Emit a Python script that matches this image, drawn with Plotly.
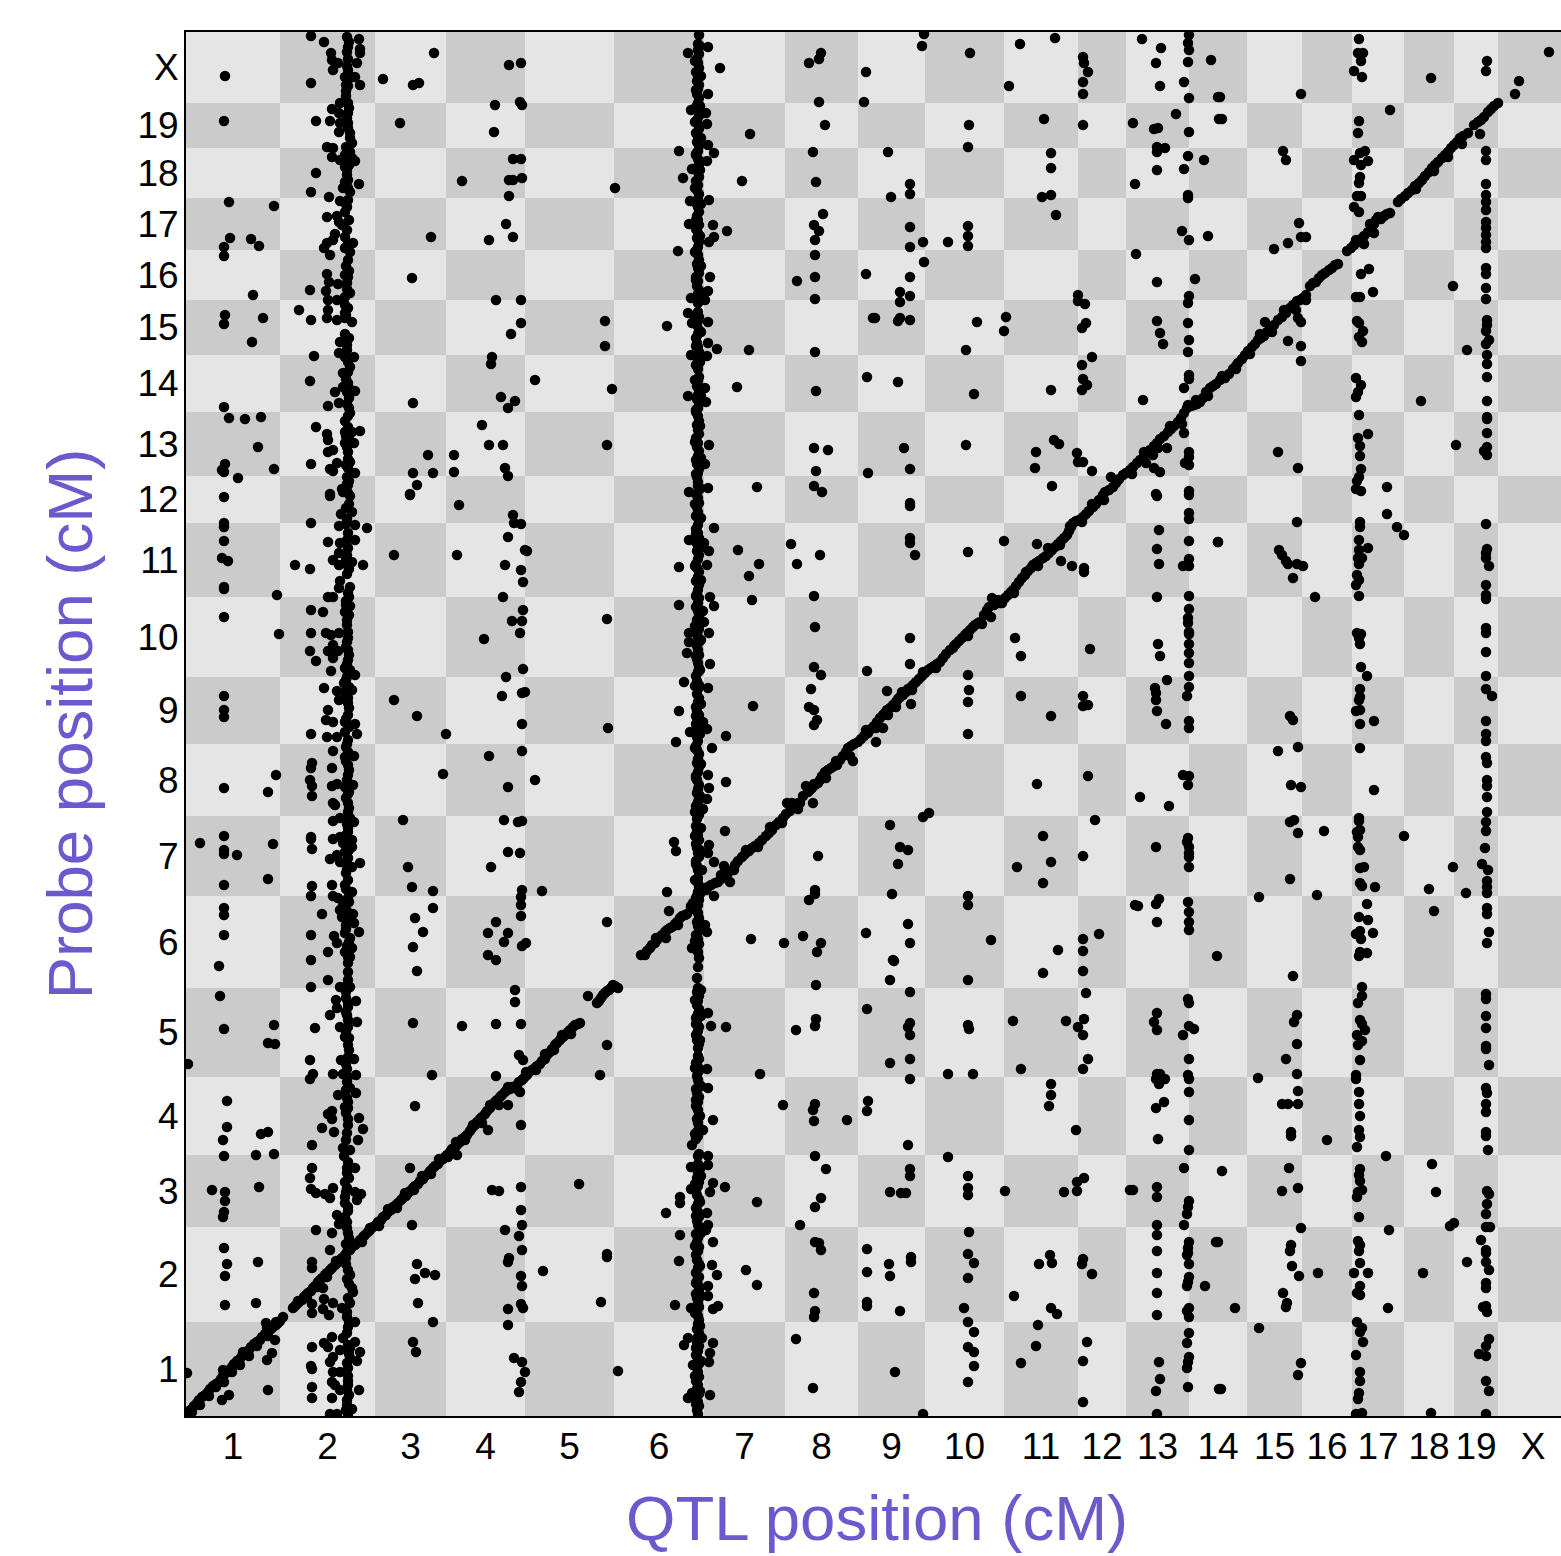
import plotly.graph_objects as go

chrom_labels = ["1","2","3","4","5","6","7","8","9","10","11","12","13","14","15","16","17","18","19","X"]
x_bounds = [0,94,189,260,339,428,518,599,672,739,818,892,940,1003,1061,1116,1166,1218,1268,1312,1375]
y_bounds = [0,94,189,261,339,428,520,600,672,739,819,893,940,1004,1061,1116,1166,1218,1268,1313,1384]

chr1_hits = [(39,1340),(38,1295),(43,1214),(88,1210),(44,1178),(65,1177),(73,1170),(38,1169),(38,1160),(67,1121),(39,1101),(38,1092),(77,1098),(66,1074),(38,1009),(43,998),(59,997),(75,999),(72,969),(39,952),(36,946),(38,944),(88,947),(52,938),
(38,919),(38,893),(38,889),(38,875),(36,858),(42,855),(38,829),(38,827),(91,821),(38,799),(93,782),(38,720),(38,706),(38,699),(90,641),(38,628),(82,624),(38,580),(14,573),(87,572),(38,566),(38,562),(51,561),(82,537),(38,531),(38,508),(38,501),(38,481),
(33,450),(34,420),(38,387),(88,391),(82,373),(89,372),(2,352),(41,315),(41,289),(37,276),(75,282),(82,284),(38,260),(70,261),(88,262),(26,226),(39,224),(73,229),(39,215),(38,204),(37,199),(38,168),(41,152),(72,154),(39,140),(39,111),(70,113),(89,76),(86,63),(81,56),(82,26),(43,21),(36,16),(1,43)]

chr2_top = [(125,1380),(138,1374),(161,1379),(173,1377),(162,1369),(174,1367),(174,1363),(145,1363),(161,1364),(146,1356),(152,1353),(162,1357),(171,1353),(147,1346),(162,1346),(169,1339),(159,1339),(162,1336),(125,1333),(160,1331),(174,1331),(162,1330),
(160,1320),(154,1313),(162,1313),(146,1307),(153,1303),(162,1303),(144,1295),(130,1295),(154,1293),(162,1293),(153,1284),(164,1283),(164,1278),(166,1273),(141,1269),(147,1268),(164,1264),(146,1259),(159,1261),(154,1256),(161,1256),(169,1255),(166,1258),(159,1249),(130,1243),(161,1241),(162,1236),(159,1234),(173,1232),(157,1228),(164,1224),(125,1224),(143,1219),(154,1215),(162,1216),(161,1209),(159,1204),(141,1199),(151,1200),(156,1191),(153,1194),(149,1182),(159,1179),(167,1173),(141,1173),(138,1168),(147,1176),(164,1164),(159,1168),(144,1161),(162,1156),(141,1142),(159,1141),(162,1139),(143,1134),(152,1132),(161,1133),(124,1126),(140,1125),(164,1123),(159,1119),(142,1116),(151,1116),(159,1111),(142,1106),(159,1103),(141,1098),(151,1096),(159,1098),(166,1094),(125,1096),(113,1106),(159,1082),(154,1074),(161,1071),(153,1063),(159,1059),(168,1059),(128,1060),(164,1049),(157,1043),(162,1044),(124,1035),(162,1033),(157,1029),(149,1024),(161,1024),(169,1025),(163,1018),(153,1013),(142,1010),(163,1008),(164,1003),(159,995),(162,989),(130,989),(159,984),(166,984),(174,985),(141,982),(142,976),(159,973),(168,973),(162,964),(142,964),(147,966),(125,952),(151,953),(164,954),(144,947),(162,948),(147,945),(169,943),(161,939),(162,931),(156,927),(144,922),(162,923)]

chr2_mid = [(144,920),(157,924),(164,920),(166,904),(160,908),(155,902),(125,893),(153,890),(160,892),(169,891),(181,888),(162,883),(142,874),(154,873),(161,876),(169,876),(153,863),(161,861),(147,856),(166,854),(109,851),(124,847),(153,851),(162,850),(177,851),(154,835),(164,829),(153,828),(142,819),(147,819),(163,819),(160,811),(164,810),(125,806),(137,804),(159,804),(161,791),(125,783),(140,783),(145,781),(153,783),(162,784),(161,774),(147,771),(124,765),(142,765),(152,765),(162,766),(147,758),(130,755),(162,756),(159,748),(145,745),(164,746),(169,741),(161,739),(158,733),(138,728),(151,725),(159,724),(166,726),(153,716),(162,718),(142,706),(163,708),(162,701),(140,696),(147,694),(159,694),(169,692),(125,682),(141,679),(151,679),(159,684),(171,682),(162,676),(160,669),(147,665),(168,660),(159,659),(162,651),(126,653),(125,648),(146,648),(162,641),(124,636),(126,630),(146,630),(151,632),(159,629),(167,631),(163,624),(126,620),(147,613),(162,613),(149,611),(162,604),(154,598),(147,595),(164,598),(168,594),(162,588),(125,579),(125,577),(147,577),(154,579),(166,576),(126,567),(157,573),(166,569),(159,564),(151,561),(144,557),(162,558),(154,554),(174,553),(161,551),(166,549),(160,543),(126,530),(146,531),(159,531),(166,524),(125,520),(147,520),(152,518),(162,518),(157,511),(136,502),(154,506),(167,502),(156,499),(168,493),(160,491),(173,484),(125,481),(148,480),(159,483),(164,478),(151,473),(166,468),(142,464),(159,464),(125,456),(164,459)]

chr2_low = [(162,459),(162,453),(162,444),(142,436),(125,429),(154,429),(159,429),(164,429),(150,416),(160,418),(170,415),(151,408),(162,409),(144,401),(161,401),(171,394),(154,389),(129,388),(162,389),(159,379),(163,378),(163,366),(124,356),(155,356),(162,359),(168,357),(127,342),(147,342),(157,342),(170,341),(124,337),(161,334),(164,328),(152,321),(170,323),(161,318),(159,309),(146,305),(142,302),(162,308),(173,298),(146,297),(162,291),(136,288),(177,287),(148,284),(161,283),(172,276),(126,271),(157,268),(164,266),(158,260),(126,248),(161,248),(169,248),(124,238),(159,234),(125,227),(161,228),(147,228),(130,223),(139,222),(144,218),(169,224),(175,222),(159,219),(171,216),(159,213),(162,205),(151,201),(161,194),(153,192),(130,186),(146,183),(162,183),(144,166),(126,154),(126,148),(164,141),(137,128),(166,128),(167,124),(138,117),(126,112),(147,113),(164,113),(137,107),(156,108),(126,103),(143,101),(161,99),(169,94),(162,89),(146,79),(138,73),(157,78),(169,74),(126,69),(142,69),(154,66),(164,68),(174,64),(147,59),(164,58),(171,55),(125,50),(126,47),(144,54),(162,48),(147,44),(162,40),(154,44),(146,34),(149,31),(162,31),(126,29),(173,26),(161,26),(154,26),(126,18),(146,18),(161,16),(166,7),(160,6),(144,2),(151,2)]

chr2_core = [(162,2),(161,11),(163,21),(162,35),(161,53),(163,62),(162,71),(161,83),(163,94),(161,104),(162,118),(163,132),(161,137),(162,146),(160,152),(159,159),(162,165),(160,172),(163,178),(161,188),(159,199),(162,209),(160,224),(163,238),(161,243),(162,254),(160,276),(162,297),(160,303),(162,314),(160,326),(162,339),(161,347),(160,352),(162,371),(160,384),(162,396),(160,404),(162,413),(160,424),(162,436),
(161,470),(163,474),(160,487),(162,496),(161,505),(163,514),(160,527),(162,536),(161,547),(163,566),(160,581),(162,584),(161,592),(163,608),(160,618),(162,622),(161,636),(163,646),(160,655),(162,664),(161,672),(163,689),(160,697),(162,713),(161,721),(163,729),(160,736),(162,743),(161,752),(163,761),(160,769),(162,778),(161,796),(163,801),(160,815),(162,823),(161,842),(163,847),(160,856),(162,868),(161,897),(163,912),
(161,932),(163,935),(160,951),(162,957),(161,969),(163,977),(160,980),(162,1000),(161,1012),(163,1028),(160,1037),(162,1054),(161,1066),(163,1078),(160,1101),(162,1108),(161,1127),(163,1145),(160,1150),(162,1172),(161,1186),(163,1196),(160,1212),(162,1228),(161,1246),(163,1251),(160,1269),(162,1288),(161,1298),(163,1308),(160,1325),(162,1342),(161,1350),(163,1374)]

chr3_4_hits = [(248,1363),(323,1351),(335,1353),(197,1337),(227,1331),(233,1333),(309,1311),(334,1314),(336,1311),(214,1293),(308,1284),(327,1257),(335,1257),(276,1235),(323,1236),(327,1236),(336,1238),(323,1220),(320,1192),(245,1179),(303,1176),(327,1179),(226,1138),(310,1116),(335,1116),(335,1093),(325,1082),(306,1059),(305,1052),(227,1013),(315,1019),(329,1015),(322,1008),(296,991),(303,971),(317,971),(242,961),(268,961),(319,948),(322,940),(227,943),(247,943),(268,944),(231,931),(224,922),
(224,921),(273,911),(327,901),(328,893),(335,892),(322,879),(339,866),(208,861),(271,861),(319,851),(335,846),(337,834),(317,819),(337,806),(326,795),(336,795),(334,783),(298,777),(337,747),(320,739),(316,720),(336,723),(339,724),(208,716),(231,700),(260,682),(336,692),(303,660),(336,665),(257,642),(322,629),(217,596),(318,596),(332,594),(336,595),(322,564),(334,563),(222,549),(305,549),(226,529),(247,525),(336,526),(335,519),(335,511),(247,508),(229,498),(335,500),(310,494),(302,483),(322,483),(237,484),(318,474),(336,470),(340,473),(227,469),(302,461),(310,456),
(231,445),(329,426),(329,414),(227,393),(276,390),(310,392),(335,392),(333,361),(337,356),(246,341),(310,340),(229,310),(335,291),(302,286),(322,311),(334,324),(224,248),(306,226),(313,225),(335,229),(335,206),(226,191),(336,191),(319,186),(333,180),(336,166),(323,158),(322,154),(231,152),(239,143),(249,141),(229,137),(335,140),(336,130),(232,113),(335,112),(337,108),(322,107),(247,94),(322,91),(227,74),(230,64),(328,58),(336,54),(339,44),(335,34),(333,24),(271,261)]

chr5_hits = [(429,1228),(419,1095),(419,1070),(481,1090),(349,1036),(426,1027),(421,971),(341,865),(421,797),(422,688),(349,636),(356,525),(421,494),(432,45),(393,232),(421,371),(414,341),(421,159),(421,162),(357,145),(415,114),(402,420)]

chr6_7_side = [(502,1363),(522,1369),(534,1348),(522,1322),(505,1306),(520,1303),(521,1292),(564,1282),(493,1265),(528,1263),(522,1271),(521,1255),(506,1247),(497,1238),(556,1235),(504,1215),(523,1216),(503,1192),(527,1191),(541,1185),(528,1179),(523,1174),(492,1165),(524,1139),(522,1125),(505,1118),(519,1116),(502,1103),(522,1094),(506,1093),(522,1073),(531,1067),(563,1066),(505,1061),(521,1060),(551,1029),(519,1028),(502,1020),(520,1014),(523,971),(519,952),(522,928),(571,929),(503,924),
(528,888),(503,876),(518,873),(552,866),(523,865),(573,852),(521,851),(493,849),(563,840),(524,819),(566,816),(493,811),(528,810),(517,805),(518,794),(523,783),(503,783),(503,774),(501,763),(524,752),(498,734),(522,728),(567,710),(493,705),(517,694),(504,684),(521,687),(540,680),(490,674),(526,668),(540,634),(522,641),(523,628),(521,617),(517,607),(539,585),(488,574),(490,565),(523,571),(522,563),(528,554),(538,550),(516,546),(481,524),(483,505),(505,510),(521,484),(565,477),(598,473),(617,480),(506,468),(519,491),(528,520),(544,534),
(522,403),(540,389),(525,390),(574,342),(521,347),(522,328),(597,311),(527,296),(517,286),(506,271),(522,260),(522,251),(505,249),(527,233),(539,229),(505,227),(524,224),(494,219),(494,213),(480,203),(571,214),(521,203),(522,191),(520,186),(494,181),(527,174),(493,155),(526,151),(560,146),(531,141),(571,131),(522,130),(522,120),(489,111),(505,108),(532,110),(527,107),(502,78),(498,71),(527,73),(516,78),(524,63),(523,54),(507,51),(506,23),(502,18),(524,21)]

chr6_band = [(512,2),(511,6),(513,10),(512,14),(510,18),(513,22),(511,27),(512,31),(510,35),(513,39),(512,44),(511,48),(513,52),(512,57),(510,61),(512,65),(513,70),(511,74),(512,79),(513,83),(511,87),(512,92),(513,96),(512,100),(511,105),(513,109),(512,113),(511,118),(510,122),(513,126),(512,131),(511,135),(513,139),(510,143),(512,148),(513,152),(511,156),(510,161),(512,165),(513,169),(511,174),(512,178),(510,182),(513,186),(512,191),(511,195),(513,199),(512,204),(510,208),(512,212),(513,217),(511,221),(510,225),(512,230),(513,234),(511,238),(512,243),(514,247),(512,252),(512,260),(513,262),
(510,277),(512,280),(511,284),(513,288),(512,293),(511,297),(513,301),(512,306),(510,310),(512,314),(513,319),(511,323),(510,327),(513,332),(512,336),(511,340),(513,345),(512,349),(510,353),(513,357),(512,360),
(512,368),(513,372),(511,376),(510,381),(512,385),(513,389),(511,394),(510,398),(512,402),(513,407),(511,411),(512,415),(513,420),(511,424),(512,428),(511,438),(512,449),(513,458),
(512,464),(511,468),(513,472),(512,477),(510,481),(513,485),(512,490),(511,494),(513,498),(512,503),(510,507),(512,511),(513,516),(511,520),(512,524),(513,529),(512,533),(512,538),
(512,546),(511,550),(510,555),(513,559),(512,563),(511,568),(510,572),(513,576),(512,581),(511,585),(510,590),
(511,597),(513,601),(512,605),(510,610),(512,614),(513,618),(511,623),(512,627),(513,631),(511,636),(510,640),(512,644),(513,649),(511,653),(512,657),(513,662),(511,666),(510,670),(512,675),(511,679),(513,683),(512,688),(510,692),(512,696),(513,701),(511,705),(510,709),(512,714),(513,718),(511,722),(512,727),(513,731),(511,735),(510,740),(512,744),(513,748),(512,753),(511,757),(513,761),(512,766),(511,770),(513,774),(512,779),(511,783),(513,787),(512,792),(511,796),(513,800),(512,805),(510,809),(512,813),(513,818),(511,822),(512,826),(513,831),(510,835),(512,839),(513,844),(511,848),(510,852),(512,857),(513,861),(511,865),(512,870),(510,874),(513,878),(512,883),(510,887),(512,891),(513,896),(510,900),(512,904),(511,909),(513,913),(512,918),(510,922),(513,926),(512,930),
(512,934),(511,939),(512,943),(513,947),(511,952),(510,956),(512,960),(513,965),(511,969),(512,973),(510,978),(513,982),(512,986),(511,991),(513,995),(512,1000),(510,1004),(512,1008),(513,1013),(511,1017),(512,1021),(513,1026),(511,1030),(512,1035),(513,1039),
(512,1047),(510,1051),(512,1056),(511,1060),(513,1064),(512,1069),(511,1073),(510,1078),(512,1082),(513,1086),(511,1091),(512,1095),(513,1099),(512,1104),
(512,1113),(510,1117),(512,1122),(513,1126),(511,1130),(512,1135),(510,1139),(513,1143),(512,1148),(511,1152),(513,1156),(512,1161),(510,1165),(512,1169),(513,1174),(511,1178),(512,1183),(510,1187),(513,1191),(512,1196),(511,1200),(513,1204),(512,1209),(510,1213),(512,1217),(513,1222),(511,1226),(512,1231),(510,1235),(513,1239),(512,1244),(511,1248),(513,1252),(512,1257),(510,1261),(512,1265),(513,1270),(511,1274),(512,1279),(510,1283),(513,1287),(512,1292),(511,1296),(513,1300),(512,1305),(510,1309),(512,1313),(513,1318),(511,1322),(512,1327),(513,1331),(511,1335),(512,1340),(510,1344),(513,1348),(512,1353),(511,1357),(513,1362),(512,1366),(512,1372),(513,1381)]

chr6_edges = [(510,12),(514,25),(509,40),(515,55),(510,68),(514,90),(509,103),(515,120),(510,133),(514,150),(509,170),(515,183),(510,200),(514,214),(509,232),(515,240),(509,282),(514,300),(510,316),(515,330),(509,348),(514,376),(510,392),(515,400),(509,416),(515,426),(509,475),(515,492),(510,506),(514,522),(509,536),(510,552),(514,566),(509,580),(515,588),(509,604),(514,620),(510,638),(515,652),(509,668),(514,682),(510,700),(515,712),(509,730),(514,746),(510,760),(515,776),(509,790),(514,806),(510,820),(515,836),(509,850),(514,868),(510,882),(515,898),(509,912),(514,928),(510,942),(515,958),(509,974),(514,990),(510,1006),(515,1020),(509,1036),(514,1054),(510,1070),(515,1084),(509,1098),(514,1120),(510,1136),(515,1150),(509,1164),(514,1180),(510,1196),(515,1212),(509,1228),(514,1246),(510,1262),(515,1278),(509,1294),(514,1310),(510,1326),(515,1340),(509,1355),(514,1370)]

chr8_hits = [(635,1363),(633,1357),(623,1353),(680,1344),(678,1314),(633,1314),(639,1291),(627,1264),(630,1234),(637,1202),(628,1191),(633,1185),(629,1176),(629,1161),(629,1139),(611,1135),(680,1142),(629,1117),(687,1098),(629,1064),(681,1039),(630,1025),(628,968),(642,966),(630,945),(682,943),(628,930),(636,924),
(605,872),(634,861),(611,852),(628,820),(629,789),(628,749),(635,741),(681,745),(625,727),(623,709),(628,706),(631,696),(628,691),(667,655),(632,560),(629,526),(629,522),(623,516),(680,483),(635,473),(631,464),(627,613),
(630,431),(681,407),(630,397),(629,390),(610,386),(629,312),(627,306),(628,295),(661,296),(682,315),(681,305),(629,260),(640,247),(635,218),(629,209),(614,191),(629,174),(633,173),(635,166),(681,167),(681,144),(628,123),(629,105),(628,99),(681,114),(681,110),(610,77),(627,28)]

chr9_13_top = [(738,1382),(736,1370),(784,1363),(834,1372),(869,1378),(823,1330),(897,1359),(898,1353),(902,1344),(897,1334),(897,1322),(858,1297),(897,1291),(783,1291),(782,1269),(702,1264),(865,1263),(865,1248),(724,1232),(724,1222),(705,1219),(865,1221),(856,1219),(870,1201),(724,1189),(782,1190),(782,1180),(782,1170),(762,1174),(737,1174),(724,1169),(738,1154),(724,1139),(714,1124),(724,1120),(714,1114),(689,1098),(714,1098),(712,1095),(724,1096),(791,1094),(820,1099),(818,1085),(780,1066),(712,1034),(788,1022),(865,1026),(892,1121),(892,1115),(899,1112),(900,1093),(896,1088),(906,1059),(896,1051),(897,1037),(901,1031),(896,1026),(718,968),(780,971),(724,947),(868,976),(873,972),(850,964),(849,948),(866,930),(891,963),(892,954),(897,954),(906,945),(925,939),
(956,1377),(975,1368),(970,1353),(974,1330),(998,1334),(990,1302),(947,1293),(968,1287),(972,1288),(971,1269),(979,1268),(971,1264),(971,1246),(998,1247),(949,1232),(996,1185),(950,1162),(971,1134),(971,1095),(974,1083),(977,1072),(957,1016),(998,1028),
(1003,1381),(1002,1373),(1003,1366),(1002,1354),(1003,1318),(1003,1284),(1002,1260),(1002,1221),(1002,1218),(1003,1176),(1003,1120),(1002,1113),(1002,1093),(1003,1076),(1002,1064),(1003,1041),(1003,1037),(998,983),(1003,964),(1003,959),(999,953),(1003,951),(1003,925),
(1025,1356),(1032,1319),(1033,1297),(1018,1256),(1022,1180),(1009,1137),(981,968),(967,961),(960,953),(968,948),(974,944),(970,922)]

chr9_13_mid = [(724,913),(724,910),(724,878),(724,873),(729,861),(782,864),(818,875),(851,872),(724,778),(724,752),(782,741),(783,726),(782,714),(782,682),(829,778),(835,760),(835,720),(865,700),(897,720),(897,710),(902,711),(904,767),(875,855),(886,850),(898,848),(898,844),(701,725),(725,712),(697,688),(690,674),(805,799),
(971,920),(973,886),(971,867),(973,852),(971,819),(972,772),(974,760),(969,728),(970,723),(970,716),(971,705),(980,692),(981,736),
(1003,921),(1003,903),(1003,897),(1003,875),(1003,857),(997,850),(1003,850),(1003,820),(1003,807),(1002,798),(1002,793),(1003,784),(1003,782),(1003,772),(1003,763),(1003,753),(1003,740),(1003,729),(1001,720),(1003,695),(1003,688),(1032,874),
(851,632),(902,640),(997,641),(1003,640),(1002,631),(954,619),(983,610),(743,603),(737,599),(704,591),(714,569),(722,566),(712,552),(706,522),(722,492),(724,473),(707,456),(857,580),(865,554),(831,549),(857,533),(909,596),(897,560),(782,520),(782,511),(805,476),(872,466),(897,477),(897,465),(913,482),(970,569),(1002,578),(1001,574),(1003,569),(1003,563),(1003,559),(1003,549),(949,511),(952,510),(973,517),(970,512),(971,494),(1002,514),(1003,504),(1003,494),(1003,486),(1031,460)]

chr9_13_low = [(708,455),(704,436),(782,436),(857,443),(897,445),(724,424),(900,423),(724,393),(722,389),(724,381),(782,391),(783,387),(827,395),(880,395),(898,397),(892,389),(897,381),(971,403),(968,394),(971,386),(1002,417),(1003,413),(1003,390),(1008,387),(997,381),(704,353),(724,357),(724,337),(762,342),(787,342),(835,347),(902,357),(897,347),(1003,357),(1002,341),(1003,337),(1003,324),(971,342),(974,342),(970,337),(979,337),(973,332),(865,332),(865,321),(863,310),(978,314),(970,308),(1003,296),(890,286),(972,277),(1003,266),(722,271),(762,259),(724,247),(724,240),(782,240),(998,248),(898,238),(891,234),(704,224),(715,223),(720,223),(782,228),(782,221),(819,225),(878,224),(891,225),(944,226),(947,226),(971,229),(971,219),(1003,215),(1002,209),(1001,202),(783,184),(971,191),(971,181),(998,191),(1003,174),(1030,174),(1002,168),(971,165),(1002,163),(1001,161),(1003,152),(782,162),(788,153),(725,159),(725,154),(703,152),(704,140),(782,138),(864,161),(853,152),(866,153),(897,157),(896,152),(906,142),(971,143),(1003,139),(1002,134),(1001,130),(1019,130),(828,120),(971,123),(778,108),(714,105),(865,108),(871,102),(1003,108),(1001,105),(1003,99),(971,101),(782,94),(852,91),(788,84),(1003,83),(1001,73),(901,74),(782,69),(788,64),(850,70),(1003,59),(1002,54),(897,55),(973,54),(835,53),(1001,48),(788,50),(709,44),(782,34),(974,37),(970,25),(1002,29),(1033,27),(897,14),(737,2),(971,2)]

chr14_x_top = [(1034,1319),(1036,1297),(1115,1322),(1173,1377),(1172,1363),(1177,1363),(1175,1355),(1168,1345),(1176,1339),(1173,1295),(1172,1283),(1204,1306),(1245,1338),(1301,1355),(1300,1345),(1363,1364),(1333,1335),(1329,1322),
(1097,1265),(1100,1256),(1179,1265),(1174,1263),(1168,1256),(1182,1255),(1175,1251),(1174,1239),(1173,1233),(1171,1220),(1175,1220),(1168,1209),(1173,1204),(1300,1265),(1300,1256),(1300,1232),(1300,1221),(1300,1214),(1300,1206),(1300,1194),(1300,1188),(1300,1181),(1300,1174),(1300,1168),(1294,1282),
(1113,1193),(1115,1179),(1120,1179),(1102,1173),(1088,1167),(1183,1147),(1175,1142),(1187,1124),(1170,1119),(1174,1119),(1267,1130),(1300,1148),(1300,1142),(1300,1128),(1300,1117),
(1112,1098),(1115,1094),(1079,1094),(1102,1075),(1115,1070),(1115,1055),(1171,1095),(1173,1093),(1177,1085),(1173,1079),(1176,1074),(1301,1096),(1301,1091),(1300,1085),(1303,1076),(1300,1072),(1281,1066),(1301,1061),(1301,1052),(1301,1039),
(1170,1038),(1175,1031),(1172,1024),(1170,1019),(1235,1015),(1301,1015),(1173,1001),(1301,999),(1301,997),(1182,982),(1172,978),(1174,970),(1174,960),(1301,983),(1270,971),(1301,969),(1298,965),(1301,961),(1092,964),(1112,948),(1175,947),(1173,939),(1171,935),(1170,927),(1175,925),(1201,929)]

chr14_x_mid = [(1111,894),(1032,874),(1093,866),(1096,861),(1100,855),(1102,852),(1111,852),(1117,850),(1107,838),(1129,819),
(1174,894),(1174,889),(1173,876),(1173,866),(1182,868),(1172,858),(1176,858),(1173,852),(1171,841),(1173,836),(1170,831),(1173,820),(1201,902),(1211,889),(1218,881),
(1300,892),(1301,867),(1300,863),(1300,858),(1303,850),(1300,831),(1300,821),(1300,817),(1300,788),(1300,783),(1300,764),(1300,740),(1300,727),(1306,720),(1300,695),(1300,682),(1300,675),(1300,659),(1301,653),(1301,636),(1301,630),(1301,619),(1301,604),(1300,594),(1300,585),(1299,568),(1296,552),(1302,546),(1301,535),(1301,529),(1301,523),(1301,508),(1301,502),(1303,484),(1301,473),(1267,549),(1243,527),(1280,523),(1248,505),(1218,580),
(1171,783),(1175,782),(1173,778),(1174,772),(1175,749),(1181,740),(1174,727),(1174,719),(1173,716),(1170,705),(1174,706),(1174,692),(1188,695),(1174,668),(1188,626),(1173,598),(1173,595),(1174,586),(1171,584),(1172,579),(1172,569),(1174,566),(1174,548),(1178,549),(1174,533),(1176,530),(1189,529),(1181,512),(1173,499),(1182,496),(1187,483),(1174,485),(1170,482),(1175,477),(1174,464),(1173,460),(1181,463),
(1104,700),(1107,696),(1112,669),(1092,665),(1105,631),(1115,629),(1108,596),(1104,594),(1112,583),(1138,585),(1104,537),(1073,519),(1131,521)]

chr14_x_low = [(1107,440),(1176,429),(1176,420),(1172,413),(1111,401),(1108,394),(1174,396),(1176,392),(1179,386),(1171,381),(1176,375),(1172,371),(1111,372),(1100,357),(1174,356),(1111,342),(1072,338),(1170,341),(1170,337),(1112,325),(1096,312),(1102,312),(1112,312),(1173,324),(1173,312),(1174,300),(1173,286),(1174,279),(1171,269),(1105,284),(1105,280),(1141,276),(1200,260),(1103,248),(1096,225),(1112,228),(1036,245),(1174,247),(1173,241),(1174,235),(1176,226),(1172,224),(1171,219),(1173,199),(1115,188),(1203,186),(1105,171),(1104,165),(1032,174),(1172,175),(1174,171),(1173,165),(1174,153),(1106,150),(1113,140),(1132,143),(1168,143),(1182,143),(1174,130),(1171,123),(1174,121),(1097,123),(1101,113),(1100,109),(1049,108),(1202,108),(1171,94),(1176,88),(1174,84),(1073,88),(1177,74),(1170,61),(1115,53),(1112,41),(1035,27),(1174,44),(1174,35),(1173,23),(1172,17),(1176,3),(1170,2),
(1300,422),(1300,417),(1300,400),(1300,388),(1300,370),(1300,367),(1303,351),(1300,328),(1301,323),(1300,312),(1300,304),(1300,284),(1300,280),(1302,266),(1301,225),(1303,222),(1301,212),(1300,202),(1300,189),(1304,189),(1295,176),(1300,166),(1300,163),(1300,154),(1303,146),(1300,133),(1300,128),(1300,110),(1297,109),(1301,104),(1303,77),(1300,70),(1293,62),(1300,60),(1300,35),(1303,25),(1300,2),
(1246,252),(1250,224),(1268,193),(1264,190),(1281,154),(1237,143),(1245,3)]

cis_a = [(1,2),(3,5),(6,7),(8,10),(11,13),(13,16),(16,19),(19,21),(22,24),(24,27),(27,30),(30,32),(33,34),(35,37),(37,40),(37,46),(40,43),(43,46),(46,49),(48,52),(51,55),(54,57),(56,60),(57,64),(60,63),(63,66),(65,69),(68,72),(71,74),(74,76),(76,79),(79,82),(80,93),(81,88),(82,85),(85,87),(87,89),(90,91),(92,93),(94,95),(97,99),
(107,108),(109,110),(111,112),(113,114),(116,116),(118,119),(120,121),(122,123),(125,125),(127,128),(129,130),(132,134),(134,136),(136,138),(139,141),(141,143),(144,146),(146,148),(149,151),(151,153),(154,156),(156,158),(159,161),(161,164),(164,166),(166,169),(169,171),(171,173),(174,176),(177,179),(179,181),(182,184),(184,186),(187,189),(190,191),(192,194),(195,196),(197,199),(200,201),(202,204),(205,206),(207,209),(210,211),(212,213),(215,216),(217,218),(220,220),(222,223),(224,225),(227,228),(229,230),(232,232),(234,235),(237,237),(239,240),(242,242),(244,245),(247,248),(249,250),(252,252),(254,255),(257,257),(259,259),(261,261),(264,264),(266,267),(269,269),(271,271),(274,274),(276,277),(279,279),(281,281),(284,285),(286,288),(289,291),(291,294),(294,297),(296,299),(299,302),(301,305),(304,308),(306,311),(309,314),(311,316),(314,319),(316,321),(319,324),(321,326),(324,327),(326,329),(329,329),(331,331),(333,334),(336,336),(338,338),(341,341),(343,344),(346,346),(349,348),(351,350),(354,352),(356,355),(359,357),(361,361),(364,364),(366,367),(369,371),(371,373),(374,376),(377,379),(379,381),(382,384),(384,386),(387,389),(389,391),(392,392),(394,393)]

cis_b = [(411,413),(413,415),(415,418),(417,421),(419,423),(421,425),(423,426),(425,428),(427,431),(429,430),(432,428)]

cis_c = [(455,461),(459,461),(461,465),(464,468),(466,471),(469,473),(471,476),(474,479),(476,481),(479,484),(481,486),(484,488),(486,489),(489,492),(491,494),(494,498),(496,500),(499,501),(501,502),(505,508),(507,513),(510,518),(512,523),(515,526),(518,528),(522,529),(525,531),(529,533),(532,534),(535,537),(539,540),(542,543),(546,546),(549,551),(552,555),(556,559),(559,562),(563,565),(566,568),(569,570),(573,573),(576,576),(580,580),(583,583),(586,586),(590,591),(593,594),(597,598),(600,602),(601,613),(604,605),(606,613),(609,610),(612,613),(614,613),(617,620),(620,630),(622,624),(624,626),(626,628),(629,631),(632,633),(634,636),(636,640),(639,644),(642,646),(645,648),(648,650),(651,651),(654,656),(657,660),(660,664),(662,668),(665,670),(668,672),(672,674),(675,677),(678,680),(682,683),(685,687),(688,690),(691,694),(694,698),(697,701),(699,703),(701,706),(704,708),(707,711),(710,714),(712,717),(714,719),(717,721),(720,724),(722,727),(724,728),(727,731),(730,734),(733,737),(736,740),(739,743),(742,746),(745,748),(748,750),(751,752),(754,754),(757,758),(760,762),(764,766),(767,768),(770,772),(773,775),(776,778),(779,781),(781,783),(784,786),(787,789),(789,791),(792,793),(794,794),(798,801),(801,806),(803,809),(806,818),(808,811),(811,813),(814,813),(816,813),(819,818),(822,821),(825,824),(827,826),(830,830),(833,834),(836,838),(839,841),(842,845),(845,848),(847,851),(850,853),(853,855),(857,858),(860,860),(863,863),(866,866),(869,869),(872,872),(875,875),(878,878),(881,881),(883,885),(885,889),(887,893),(890,895),(893,896),(897,899),(900,902),(903,905),(907,909),(910,912),(913,916),(917,921),(919,924),(923,926),(927,929),(930,933),(933,937),(937,941),(940,943),(944,946),(947,949),(951,953),(954,956),(958,960),(961,963),(964,966),(968,970),(971,973),(974,977),(978,980),(982,984),(985,987),(988,990),(992,994),(995,998),(998,1003),(1001,1008),(1002,1011),(1005,1010),(1008,1011),(1011,1012),(1014,1014),(1017,1018),(1020,1024),(1024,1028),(1027,1030),(1030,1032),(1034,1036),(1037,1038),(1039,1038),(1043,1042),(1047,1047),(1050,1050),(1052,1053),(1056,1057),(1059,1061),(1062,1065),(1066,1069),(1069,1072),(1072,1076),(1075,1078),(1078,1080),(1081,1084),(1084,1087),(1088,1091),(1092,1096),(1096,1099),(1100,1103),(1104,1108),(1107,1111),(1111,1115),(1114,1116),(1117,1118),(1120,1121)]

cis_d = [(1124,1130),(1127,1133),(1130,1134),(1133,1138),(1136,1141),(1139,1143),(1143,1146),(1146,1148),(1149,1151),(1152,1152),(1161,1165),(1165,1168),(1168,1171),(1172,1174),(1175,1177),(1178,1180),(1182,1184),(1186,1188),(1188,1192),(1190,1196),(1192,1199),(1195,1197),(1198,1200),(1201,1202),(1204,1203),(1212,1214),(1215,1217),(1219,1220),(1222,1223),(1226,1226),(1229,1230),(1233,1233),(1236,1236),(1239,1240),(1243,1244),(1246,1248),(1249,1251),(1252,1254),(1256,1258),(1259,1261),(1262,1264),(1265,1268),(1268,1271),(1271,1274),(1274,1278),(1277,1280),(1282,1283),(1288,1291),(1292,1294),(1295,1296),(1298,1299),(1302,1304),(1305,1307),(1308,1310),(1312,1313)]

cis_scatter = [(6,4),(14,11),(23,20),(30,29),(38,34),(46,44),(54,51),(63,60),(71,70),(82,80),(90,94),(112,115),(121,118),(131,129),(141,139),(150,155),(160,158),(167,172),(176,174),(184,188),(193,190),(202,207),(211,208),(219,223),(228,226),(236,240),(245,242),(253,257),(262,259),(270,274),(279,276),(287,291),(296,293),(304,311),(313,311),(322,329),(331,327),(340,344),(350,346),(359,362),(368,366),(376,381),(385,382),
(470,478),(480,478),(492,491),(520,526),(535,541),(548,546),(560,566),(572,569),(584,589),(596,593),(612,607),(628,632),(640,638),(650,655),(664,660),(680,686),(690,688),(702,701),(710,709),(716,724),(726,726),(737,744),(750,748),(768,770),(782,780),(796,792),(812,816),(828,823),(840,844),(852,850),(862,868),(874,871),(884,890),(896,894),(906,912),(918,916),(932,936),(946,942),(958,964),(972,968),(984,990),(996,992),(1010,1016),(1022,1020),(1036,1040),(1050,1047),(1064,1062),(1074,1082),(1086,1084),(1098,1106),(1110,1106),(1120,1116),
(1170,1176),(1178,1172),(1184,1192),(1188,1183),(1230,1227),(1248,1245),(1262,1259),(1276,1272)]

groups = [chr1_hits, chr2_top, chr2_mid, chr2_low, chr2_core, chr3_4_hits, chr5_hits, chr6_7_side, chr6_band, chr6_edges,
          chr8_hits, chr9_13_top, chr9_13_mid, chr9_13_low, chr14_x_top, chr14_x_mid, chr14_x_low,
          cis_a, cis_b, cis_c, cis_d, cis_scatter]
qtl_pos = [p[0] for g in groups for p in g]
probe_pos = [p[1] for g in groups for p in g]

n = len(chrom_labels)
z = [[(i + j) % 2 for j in range(n)] for i in range(n)]
x_mid = [(x_bounds[i] + x_bounds[i + 1]) / 2 for i in range(n)]
y_mid = [(y_bounds[i] + y_bounds[i + 1]) / 2 for i in range(n)]
x_mid[-1] = 1347

fig = go.Figure()
fig.add_trace(go.Heatmap(x=x_bounds, y=y_bounds, z=z, zmin=0, zmax=1,
                         colorscale=[[0, "#cbcbcb"], [1, "#e5e5e5"]],
                         showscale=False, hoverinfo="skip"))
fig.add_trace(go.Scatter(x=qtl_pos, y=probe_pos, mode="markers",
                         marker=dict(color="black", size=10.5, line=dict(width=0))))

FONT = "Liberation Sans, Arial, sans-serif"
TITLE = "#6A5ACD"
fig.update_layout(
    width=1561, height=1556, showlegend=False,
    margin=dict(l=186, r=0, t=32, b=140, autoexpand=False),
    paper_bgcolor="white", plot_bgcolor="white",
    font=dict(family=FONT, color="black"),
    xaxis=dict(range=[0, 1375], tickvals=x_mid, ticktext=chrom_labels, ticks="", ticklen=0, ticklabelstandoff=-3,
               tickfont=dict(size=37, family=FONT), showgrid=False, zeroline=False,
               showline=True, linecolor="black", linewidth=2, mirror=True),
    yaxis=dict(range=[0, 1384], tickvals=y_mid, ticktext=chrom_labels, ticks="", ticklen=0, ticklabelstandoff=-2,
               tickfont=dict(size=37, family=FONT), showgrid=False, zeroline=False,
               showline=True, linecolor="black", linewidth=2, mirror=True,
               title=dict(text="Probe position (cM)", font=dict(size=63.5, family=FONT, color=TITLE), standoff=24)),
    annotations=[dict(text="QTL position (cM)", xref="paper", yref="paper", x=0.5025, y=-0.0735,
                      xanchor="center", yanchor="middle", showarrow=False,
                      font=dict(size=63.5, family=FONT, color=TITLE))],
)
fig.write_html("out.html", config=dict(displayModeBar=False), post_script="document.body.style.margin='0';")
